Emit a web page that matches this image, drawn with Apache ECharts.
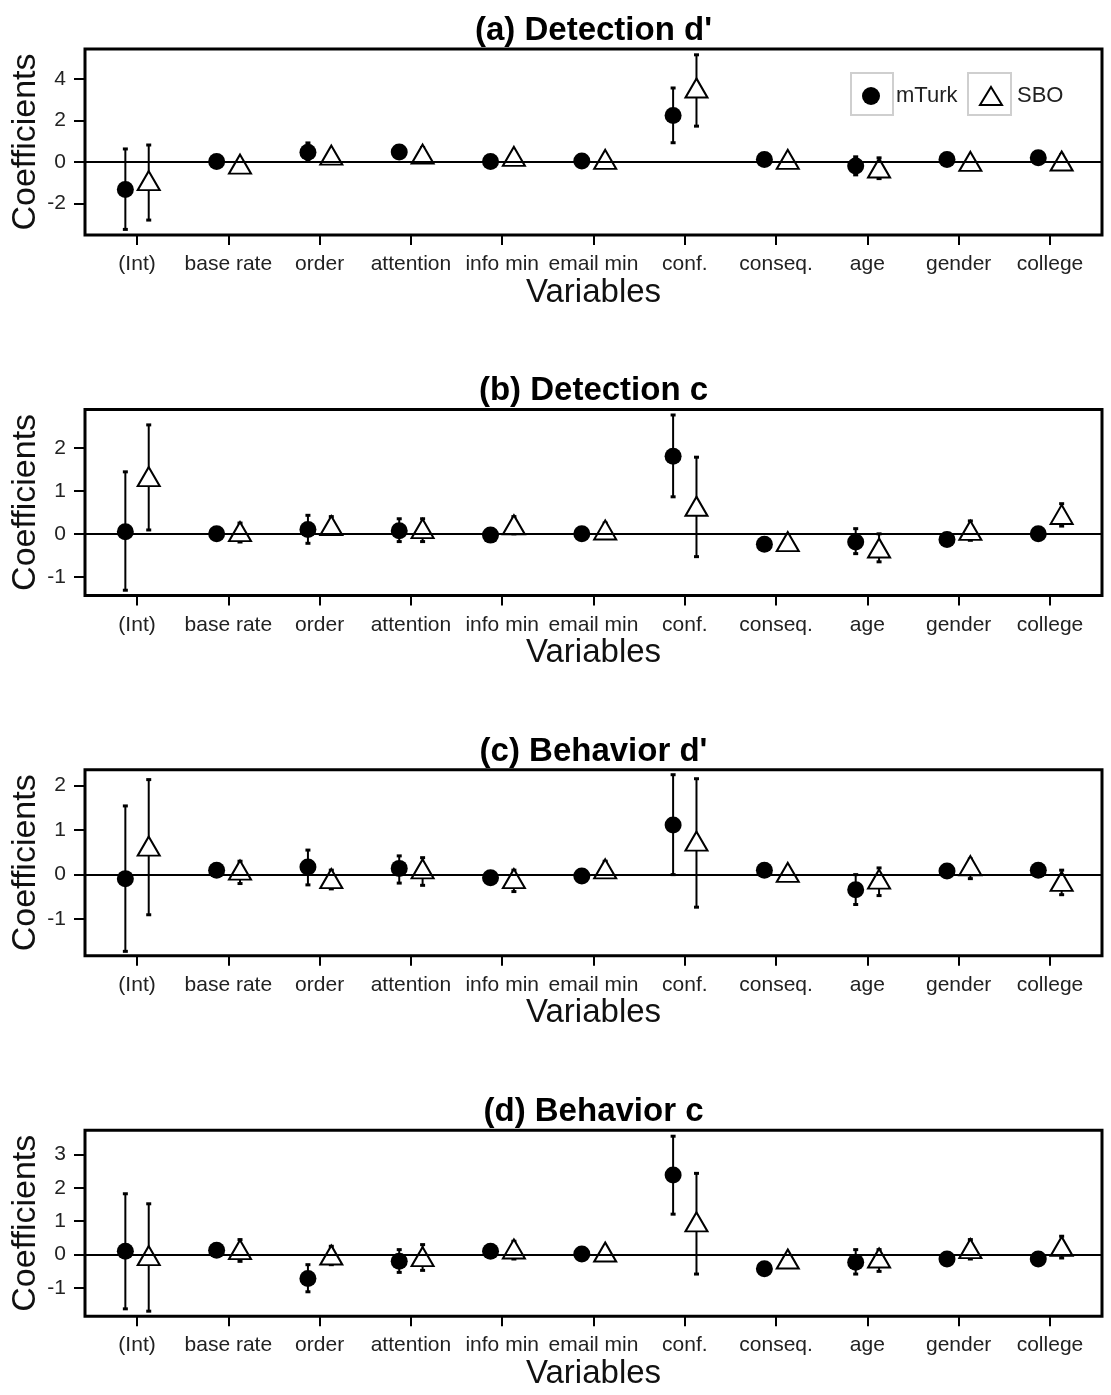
<!DOCTYPE html>
<html><head><meta charset="utf-8">
<script src="https://cdn.jsdelivr.net/npm/echarts@6/dist/echarts.min.js"></script>
<style>html,body{margin:0;padding:0;background:#fff}#chart{width:1111px;height:1395px}</style>
</head><body><div id="chart"></div>
<script>
// ---------- data ----------
const categories = ['(Int)', 'base rate', 'order', 'attention', 'info min', 'email min', 'conf.', 'conseq.', 'age', 'gender', 'college'];
const panelTitles = ["(a) Detection d'", "(b) Detection c", "(c) Behavior d'", "(d) Behavior c"];
const seriesNames = ['mTurk', 'SBO'];
const xAxisTitle = 'Variables';
const yAxisTitle = 'Coefficients';

const yTicksA = [-2, 0, 2, 4];
const yTicksB = [-1, 0, 1, 2];
const yTicksC = [-1, 0, 1, 2];
const yTicksD = [-1, 0, 1, 2, 3];

// (a) Detection d'
const detD_mTurk    = [-1.33, 0.02, 0.47, 0.48, 0.02, 0.05, 2.24, 0.12, -0.19, 0.12, 0.20];
const detD_mTurk_lo = [-3.25, -0.15, 0.05, 0.25, -0.15, -0.10, 0.93, -0.05, -0.62, -0.05, 0.00];
const detD_mTurk_hi = [0.63, 0.20, 0.92, 0.70, 0.20, 0.20, 3.57, 0.30, 0.25, 0.30, 0.40];
const detD_SBO      = [-0.90, -0.10, 0.33, 0.38, 0.27, 0.13, 3.57, 0.13, -0.29, 0.03, 0.05];
const detD_SBO_lo   = [-2.80, -0.30, 0.10, 0.00, 0.10, -0.05, 1.73, -0.10, -0.80, -0.15, -0.35];
const detD_SBO_hi   = [0.82, 0.10, 0.55, 0.70, 0.45, 0.30, 5.17, 0.30, 0.20, 0.20, 0.35];

// (b) Detection c
const detC_mTurk    = [0.05, 0.00, 0.10, 0.07, -0.03, 0.00, 1.80, -0.24, -0.19, -0.13, 0.00];
const detC_mTurk_lo = [-1.31, -0.10, -0.22, -0.18, -0.10, -0.10, 0.86, -0.35, -0.46, -0.25, -0.10];
const detC_mTurk_hi = [1.44, 0.10, 0.43, 0.35, 0.05, 0.10, 2.76, -0.10, 0.12, 0.00, 0.10];
const detC_SBO      = [1.33, 0.05, 0.19, 0.12, 0.21, 0.09, 0.64, -0.18, -0.33, 0.08, 0.45];
const detC_SBO_lo   = [0.09, -0.19, 0.00, -0.18, 0.00, -0.05, -0.53, -0.30, -0.65, -0.15, 0.18];
const detC_SBO_hi   = [2.53, 0.25, 0.40, 0.35, 0.40, 0.25, 1.78, -0.05, 0.00, 0.30, 0.70];

// (c) Behavior d'
const behD_mTurk    = [-0.09, 0.10, 0.17, 0.14, -0.07, -0.03, 1.11, 0.10, -0.34, 0.08, 0.10];
const behD_mTurk_lo = [-1.72, 0.00, -0.23, -0.19, -0.15, -0.10, 0.00, 0.00, -0.67, -0.05, 0.00];
const behD_mTurk_hi = [1.54, 0.20, 0.55, 0.42, 0.05, 0.05, 2.24, 0.20, 0.00, 0.20, 0.20];
const behD_SBO      = [0.64, 0.10, -0.09, 0.13, -0.09, 0.13, 0.75, 0.05, -0.10, 0.20, -0.15];
const behD_SBO_lo   = [-0.90, -0.20, -0.32, -0.24, -0.38, 0.00, -0.73, -0.05, -0.47, -0.09, -0.45];
const behD_SBO_hi   = [2.13, 0.30, 0.10, 0.38, 0.10, 0.30, 2.15, 0.15, 0.15, 0.35, 0.10];

// (d) Behavior c
const behC_mTurk    = [0.10, 0.13, -0.71, -0.20, 0.10, 0.02, 2.38, -0.42, -0.23, -0.13, -0.13];
const behC_mTurk_lo = [-1.62, 0.00, -1.11, -0.53, 0.00, -0.10, 1.21, -0.50, -0.58, -0.25, -0.25];
const behC_mTurk_hi = [1.82, 0.25, -0.30, 0.15, 0.20, 0.15, 3.54, -0.30, 0.15, 0.00, 0.00];
const behC_SBO      = [-0.03, 0.15, -0.01, -0.06, 0.17, 0.08, 0.98, -0.13, -0.10, 0.18, 0.25];
const behC_SBO_lo   = [-1.69, -0.20, -0.30, -0.47, -0.13, -0.05, -0.58, -0.25, -0.50, -0.13, -0.10];
const behC_SBO_hi   = [1.52, 0.45, 0.25, 0.30, 0.40, 0.20, 2.43, 0.00, 0.15, 0.45, 0.55];

// ---------- layout ----------
const panels = [
  { title: panelTitles[0], ticks: yTicksA, min: -3.52, max: 5.45,
    m: detD_mTurk, mlo: detD_mTurk_lo, mhi: detD_mTurk_hi, s: detD_SBO, slo: detD_SBO_lo, shi: detD_SBO_hi },
  { title: panelTitles[1], ticks: yTicksB, min: -1.43, max: 2.89,
    m: detC_mTurk, mlo: detC_mTurk_lo, mhi: detC_mTurk_hi, s: detC_SBO, slo: detC_SBO_lo, shi: detC_SBO_hi },
  { title: panelTitles[2], ticks: yTicksC, min: -1.82, max: 2.35,
    m: behD_mTurk, mlo: behD_mTurk_lo, mhi: behD_mTurk_hi, s: behD_SBO, slo: behD_SBO_lo, shi: behD_SBO_hi },
  { title: panelTitles[3], ticks: yTicksD, min: -1.84, max: 3.72,
    m: behC_mTurk, mlo: behC_mTurk_lo, mhi: behC_mTurk_hi, s: behC_SBO, slo: behC_SBO_lo, shi: behC_SBO_hi }
];

const FONT = 'Liberation Sans, Arial, Helvetica, sans-serif';
const DODGE = 0.128;
const GRID_LEFT = 85, GRID_RIGHT = 9, GRID_TOP0 = 49, GRID_H = 186, STEP = 360.4;
const catPos = categories.map((c, i) => i + 1);

function errRender(params, api) {
  const x = api.value(0), lo = api.value(1), hi = api.value(2);
  const pLo = api.coord([x, lo]), pHi = api.coord([x, hi]);
  return {
    type: 'group',
    children: [
      { type: 'line', shape: { x1: pLo[0], y1: pLo[1], x2: pHi[0], y2: pHi[1] }, style: { stroke: '#000', lineWidth: 2 } },
      { type: 'rect', shape: { x: pHi[0] - 2.5, y: pHi[1] - 1.5, width: 5, height: 3 }, style: { fill: '#000' } },
      { type: 'rect', shape: { x: pLo[0] - 2.5, y: pLo[1] - 1.5, width: 5, height: 3 }, style: { fill: '#000' } }
    ]
  };
}

const grids = [], xAxes = [], yAxes = [], series = [], graphics = [];
panels.forEach((p, i) => {
  const top = GRID_TOP0 + STEP * i;
  grids.push({ left: GRID_LEFT, right: GRID_RIGHT, top: top, height: GRID_H, show: true,
    borderColor: '#000', borderWidth: 3, backgroundColor: 'transparent', containLabel: false,
    outerBoundsMode: 'none' });
  xAxes.push({
    type: 'value', gridIndex: i, min: 0.43, max: 11.57, position: 'bottom',
    name: xAxisTitle, nameLocation: 'middle', nameGap: 41, nameMoveOverlap: false,
    nameTextStyle: { fontFamily: FONT, fontSize: 33, color: '#111' },
    axisLine: { show: false, onZero: false },
    axisTick: { show: true, inside: false, length: 10, customValues: catPos, lineStyle: { color: '#000', width: 2 } },
    axisLabel: { show: true, customValues: catPos, margin: 19, fontFamily: FONT, fontSize: 21, color: '#222',
      formatter: v => categories[Math.round(v) - 1] || '' },
    splitLine: { show: false }
  });
  yAxes.push({
    type: 'value', gridIndex: i, min: p.min, max: p.max, position: 'left',
    name: yAxisTitle, nameLocation: 'middle', nameGap: 42, nameMoveOverlap: false,
    nameTextStyle: { fontFamily: FONT, fontSize: 34, color: '#111' },
    axisLine: { show: false, onZero: false },
    axisTick: { show: true, inside: false, length: 11, customValues: p.ticks, lineStyle: { color: '#000', width: 2 } },
    axisLabel: { show: true, customValues: p.ticks, margin: 19, fontFamily: FONT, fontSize: 21, color: '#222' },
    splitLine: { show: false }
  });
  series.push({
    name: 'mTurk CI', type: 'custom', xAxisIndex: i, yAxisIndex: i, z: 2,
    renderItem: errRender, encode: { x: 0, y: [1, 2] },
    data: categories.map((c, j) => [j + 1 - DODGE, p.mlo[j], p.mhi[j]]),
    markLine: { silent: true, symbol: 'none', label: { show: false },
      lineStyle: { color: '#000', width: 2, type: 'solid' }, data: [{ yAxis: 0 }] }
  });
  series.push({
    name: 'SBO CI', type: 'custom', xAxisIndex: i, yAxisIndex: i, z: 2,
    renderItem: errRender, encode: { x: 0, y: [1, 2] },
    data: categories.map((c, j) => [j + 1 + DODGE, p.slo[j], p.shi[j]])
  });
  series.push({
    name: seriesNames[0], type: 'scatter', xAxisIndex: i, yAxisIndex: i, z: 3,
    symbol: 'circle', symbolSize: 17, itemStyle: { color: '#000', opacity: 1 },
    data: categories.map((c, j) => [j + 1 - DODGE, p.m[j]])
  });
  series.push({
    name: seriesNames[1], type: 'scatter', xAxisIndex: i, yAxisIndex: i, z: 4,
    symbol: 'triangle', symbolSize: [22, 19],
    itemStyle: { color: '#fff', borderColor: '#000', borderWidth: 2, opacity: 1 },
    data: categories.map((c, j) => [j + 1 + DODGE, p.s[j]])
  });
  graphics.push({ type: 'text', x: GRID_LEFT + (1111 - GRID_LEFT - GRID_RIGHT) / 2, y: top - 18,
    style: { text: p.title, font: 'bold 33px ' + FONT, fill: '#000', align: 'center', verticalAlign: 'middle' } });
});

// legend boxes
graphics.push({ type: 'rect', shape: { x: 851, y: 73, width: 42, height: 42 }, style: { fill: 'none', stroke: '#cfcfcf', lineWidth: 2 } });
graphics.push({ type: 'rect', shape: { x: 968, y: 73, width: 43, height: 42 }, style: { fill: 'none', stroke: '#cfcfcf', lineWidth: 2 } });

const chart = echarts.init(document.getElementById('chart'), null, { renderer: 'canvas' });
chart.setOption({
  animation: false,
  backgroundColor: '#fff',
  grid: grids, xAxis: xAxes, yAxis: yAxes, series: series,
  legend: [
    { data: [{ name: seriesNames[0], icon: 'circle' }], left: 862, top: 85, padding: 0, itemWidth: 20, itemHeight: 18,
      selectedMode: false, textStyle: { fontFamily: FONT, fontSize: 22, color: '#222', padding: [0, 0, 0, 10] } },
    { data: [{ name: seriesNames[1], icon: 'triangle' }], left: 979, top: 85, padding: 0, itemWidth: 22, itemHeight: 18,
      selectedMode: false, textStyle: { fontFamily: FONT, fontSize: 22, color: '#222', padding: [0, 0, 0, 10] } }
  ],
  graphic: graphics
});
</script>
</body></html>
